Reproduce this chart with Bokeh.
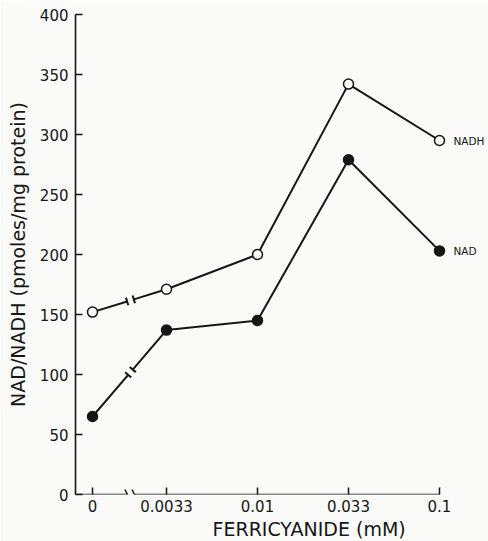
import math
from bokeh.plotting import figure
from bokeh.models import Range1d, FixedTicker, Arrow, Title
from bokeh.embed import file_html
from bokeh.resources import INLINE
from bokeh.core.properties import value

# ---------------- data ----------------
concentrations = ["0", "0.0033", "0.01", "0.033", "0.1"]
nadh = [152, 171, 200, 342, 295]
nad = [65, 137, 145, 279, 203]
y_ticks = [0, 50, 100, 150, 200, 250, 300, 350, 400]
series_names = ["NADH", "NAD"]

# ---------------- layout ----------------
W, H = 488, 541
LEFT, RIGHT, TOP, BOTTOM = 75, 0, 14, 47
PX_X = 91.0
FRAME_W = W - LEFT - RIGHT
FRAME_H = H - TOP - BOTTOM
Y_MAX = 400
PX_Y = FRAME_H / Y_MAX
BREAK_GAP = 0.813       # index distance between "0" and the first concentration
BREAK_X = 0.604         # where the axis / lines are broken
FONT = "DejaVu Sans"
INK = "#161616"
BG = "#fafaf8"

x_pos = [1 - BREAK_GAP if i == 0 else float(i) for i in range(len(concentrations))]

p = figure(width=W, height=H, output_backend="svg", toolbar_location=None,
           x_range=Range1d(0, FRAME_W / PX_X), y_range=Range1d(0, Y_MAX),
           min_border_left=LEFT, min_border_right=RIGHT,
           min_border_top=TOP, min_border_bottom=BOTTOM)
p.background_fill_color = BG
p.border_fill_color = BG
p.outline_line_color = None
p.grid.visible = False

# axes
p.xaxis.ticker = FixedTicker(ticks=x_pos)
p.xaxis.major_label_overrides = {x: c for x, c in zip(x_pos, concentrations)}
p.yaxis.ticker = FixedTicker(ticks=y_ticks)
for ax in (p.xaxis[0], p.yaxis[0]):
    ax.major_tick_in = 7
    ax.major_tick_out = 0
    ax.minor_tick_line_color = None
    ax.major_tick_line_width = 1.5
    ax.major_tick_line_color = INK
    ax.major_label_text_font = FONT
    ax.major_label_text_font_size = "15px"
    ax.major_label_text_color = INK
p.xaxis.axis_line_color = None
p.xaxis.major_label_standoff = 5
p.yaxis.axis_line_width = 1.6
p.yaxis.axis_line_color = INK
p.yaxis.major_label_standoff = 7
p.yaxis.axis_label = "NAD/NADH (pmoles/mg protein)"
p.yaxis.axis_label_text_font = FONT
p.yaxis.axis_label_text_font_size = "19px"
p.yaxis.axis_label_text_font_style = "normal"
p.yaxis.axis_label_text_color = INK
p.yaxis.axis_label_standoff = 8

# x axis title, offset to sit under the concentration ticks as in the original
p.add_layout(Title(text="FERRICYANIDE (mM)", align="left", offset=137,
                   text_font=FONT, text_font_size="19px",
                   text_font_style="normal", text_color=INK,
                   standoff=2), "below")


def to_dx(px):
    return px / PX_X


def to_dy(px):
    return px / PX_Y


# x axis line with break
gap_l = BREAK_X - to_dx(3)
gap_r = BREAK_X + to_dx(4)
for xs, xe in ((0, gap_l), (gap_r, x_pos[-1])):
    p.add_layout(Arrow(end=None, x_start=xs, y_start=0, x_end=xe, y_end=0,
                       line_width=1.6, line_color=INK))
for xc in (gap_l, gap_r):
    p.add_layout(Arrow(end=None, x_start=xc - to_dx(2.5), y_start=to_dy(5),
                       x_end=xc + to_dx(2.5), y_end=-to_dy(5),
                       line_width=1.4, line_color=INK))


def break_pieces(x0, y0, x1, y1, xb, gap_px=3.5, bar_px=4):
    dx = (x1 - x0) * PX_X
    dy = (y1 - y0) * PX_Y
    L = math.hypot(dx, dy)
    ux, uy = dx / L, dy / L
    t = (xb - x0) / (x1 - x0)
    cx, cy = x0 + t * (x1 - x0), y0 + t * (y1 - y0)
    a = (cx - to_dx(gap_px * ux), cy - to_dy(gap_px * uy))
    b = (cx + to_dx(gap_px * ux), cy + to_dy(gap_px * uy))
    nx, ny = -uy, ux
    segs = [((x0, y0), a), (b, (x1, y1))]
    for (qx, qy) in (a, b):
        segs.append(((qx - to_dx(bar_px * nx), qy - to_dy(bar_px * ny)),
                     (qx + to_dx(bar_px * nx), qy + to_dy(bar_px * ny))))
    return segs


for vals in (nadh, nad):
    p.line(x_pos[1:], vals[1:], line_width=2, line_color=INK)
    segs = break_pieces(x_pos[0], vals[0], x_pos[1], vals[1], BREAK_X)
    p.segment(x0=[s[0][0] for s in segs], y0=[s[0][1] for s in segs],
              x1=[s[1][0] for s in segs], y1=[s[1][1] for s in segs],
              line_width=2, line_color=INK)

p.scatter(x_pos, nadh, size=10, marker="circle", fill_color=BG,
          line_color=INK, line_width=1.5)
p.scatter(x_pos, nad, size=10, marker="circle", fill_color=INK,
          line_color=INK, line_width=1.5)

p.text(x=[x_pos[-1], x_pos[-1]], y=[nadh[-1], nad[-1]], text=series_names,
       x_offset=14, text_baseline="middle", text_align="left",
       text_font=value(FONT), text_font_size="10.5px", text_color=INK)

open("out.html", "w").write(file_html(p, INLINE))
